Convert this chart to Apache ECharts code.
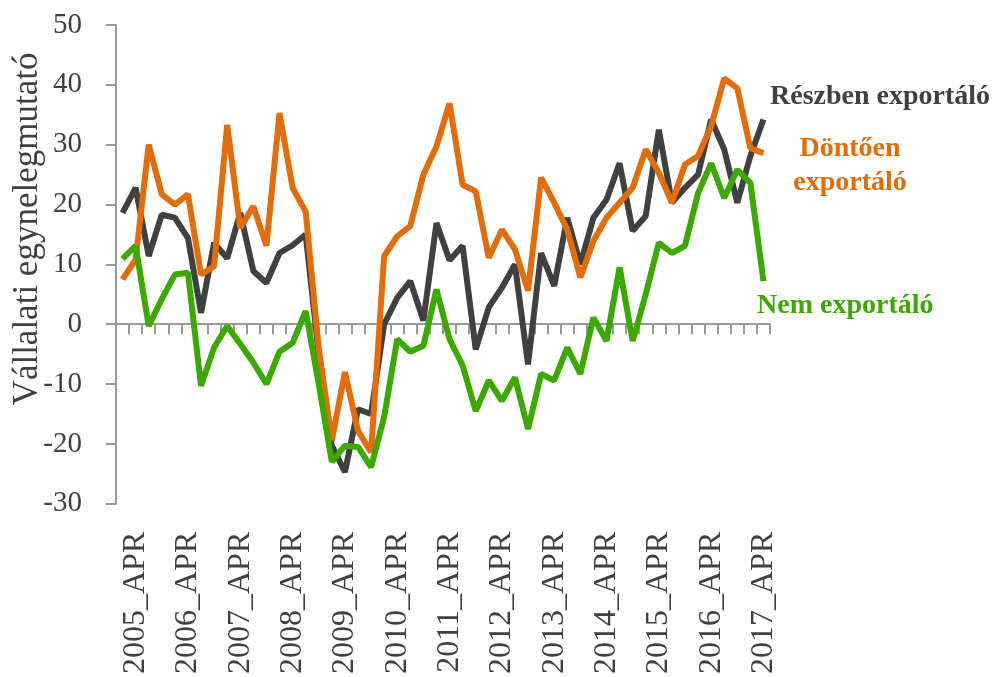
<!DOCTYPE html>
<html>
<head>
<meta charset="utf-8">
<script src="https://cdn.jsdelivr.net/npm/echarts@6/dist/echarts.min.js"></script>
<style>
html,body{margin:0;padding:0;background:#fff;}
#c{width:998px;height:677px;}
</style>
</head>
<body>
<div id="c"></div>
<script>
var categories = [
  "2005_JAN","2005_APR","2005_JUL","2005_OKT",
  "2006_JAN","2006_APR","2006_JUL","2006_OKT",
  "2007_JAN","2007_APR","2007_JUL","2007_OKT",
  "2008_JAN","2008_APR","2008_JUL","2008_OKT",
  "2009_JAN","2009_APR","2009_JUL","2009_OKT",
  "2010_JAN","2010_APR","2010_JUL","2010_OKT",
  "2011_JAN","2011_APR","2011_JUL","2011_OKT",
  "2012_JAN","2012_APR","2012_JUL","2012_OKT",
  "2013_JAN","2013_APR","2013_JUL","2013_OKT",
  "2014_JAN","2014_APR","2014_JUL","2014_OKT",
  "2015_JAN","2015_APR","2015_JUL","2015_OKT",
  "2016_JAN","2016_APR","2016_JUL","2016_OKT",
  "2017_JAN","2017_APR"
];
var yTicks = [-30, -20, -10, 0, 10, 20, 30, 40, 50];

var reszben = [
  18.6, 22.8, 11.4, 18.3, 17.8, 14.4, 1.9, 13.6, 11.0, 18.6,
  8.9, 6.9, 11.9, 13.2, 15.0, -5.0, -20.3, -24.7, -14.2, -15.0,
  0.0, 4.4, 7.2, 0.6, 16.9, 10.7, 13.1, -4.2, 2.8, 6.1,
  10.0, -6.7, 11.9, 6.4, 17.8, 10.0, 17.8, 20.8, 26.9, 15.6,
  18.1, 32.5, 20.3, 22.8, 25.0, 34.2, 29.2, 20.3, 28.1, 34.2
];
var dontoen = [
  7.5, 10.8, 30.0, 21.7, 20.0, 21.7, 8.3, 9.7, 33.3, 16.1,
  19.7, 13.1, 35.3, 22.8, 18.8, -4.0, -19.4, -8.0, -17.8, -21.4,
  11.4, 14.7, 16.4, 25.0, 29.7, 36.9, 23.3, 22.2, 11.1, 15.8,
  12.5, 5.6, 24.5, 20.3, 15.8, 7.8, 13.9, 17.8, 20.3, 22.8,
  29.2, 25.3, 20.3, 26.7, 28.1, 33.1, 41.1, 39.4, 29.4, 28.6
];
var nem = [
  10.9, 13.1, -0.3, 4.2, 8.3, 8.6, -10.3, -3.9, -0.3, -3.3,
  -6.4, -10.0, -4.6, -3.1, 2.2, -10.0, -23.0, -20.3, -20.5, -23.9,
  -15.5, -2.5, -4.6, -3.6, 5.8, -2.5, -6.9, -14.5, -9.4, -12.8,
  -8.9, -17.5, -8.3, -9.4, -3.9, -8.3, 1.1, -2.8, 9.5, -2.8,
  5.0, 13.6, 11.9, 13.1, 21.9, 26.9, 21.1, 25.8, 23.6, 7.2
];

var FONT = '"Liberation Serif", "DejaVu Serif", serif';
var chart = echarts.init(document.getElementById('c'), null, {renderer: 'canvas'});
chart.setOption({
  animation: false,
  backgroundColor: '#ffffff',
  grid: {left: 116, right: 228, top: 25, bottom: 172, containLabel: false},
  xAxis: [
    {
      type: 'category', data: categories, boundaryGap: true, position: 'bottom',
      axisLine: {show: true, onZero: true, lineStyle: {color: '#999999', width: 2}},
      axisTick: {show: true, interval: 0, length: 10, lineStyle: {color: '#999999', width: 2}},
      axisLabel: {show: false},
      splitLine: {show: false}
    },
    {
      type: 'category', data: categories, boundaryGap: true, position: 'bottom',
      axisLine: {show: false, onZero: false},
      axisTick: {show: false},
      axisLabel: {
        show: true, rotate: 90, margin: 28,
        interval: function (i) { return i % 4 === 1; },
        fontFamily: FONT, fontSize: 32, color: '#404040'
      },
      splitLine: {show: false}
    }
  ],
  yAxis: {
    type: 'value', min: yTicks[0], max: yTicks[yTicks.length - 1], interval: 10,
    axisLine: {show: true, lineStyle: {color: '#999999', width: 2}},
    axisTick: {show: true, length: 10, lineStyle: {color: '#999999', width: 2}},
    axisLabel: {margin: 34, fontFamily: FONT, fontSize: 29, color: '#404040'},
    splitLine: {show: false}
  },
  series: [
    {name: 'Részben exportáló', type: 'line', data: reszben, symbol: 'none', xAxisIndex: 0,
     lineStyle: {color: '#404040', width: 6}, itemStyle: {color: '#404040'}},
    {name: 'Döntően exportáló', type: 'line', data: dontoen, symbol: 'none', xAxisIndex: 0,
     lineStyle: {color: '#E46C0A', width: 6}, itemStyle: {color: '#E46C0A'}},
    {name: 'Nem exportáló', type: 'line', data: nem, symbol: 'none', xAxisIndex: 0,
     lineStyle: {color: '#3AAA00', width: 6}, itemStyle: {color: '#3AAA00'}}
  ],
  graphic: [
    {type: 'text', x: 28, y: 229, rotation: Math.PI / 2,
     style: {text: 'Vállalati egynelegmutató', font: '35px ' + FONT, fill: '#404040', align: 'center', verticalAlign: 'middle'}},
    {type: 'text', x: 770, y: 97,
     style: {text: 'Részben exportáló', font: 'bold 28px ' + FONT, fill: '#404040', align: 'left', verticalAlign: 'middle'}},
    {type: 'text', x: 850, y: 149,
     style: {text: 'Döntően', font: 'bold 28px ' + FONT, fill: '#E46C0A', align: 'center', verticalAlign: 'middle'}},
    {type: 'text', x: 850, y: 183,
     style: {text: 'exportáló', font: 'bold 28px ' + FONT, fill: '#E46C0A', align: 'center', verticalAlign: 'middle'}},
    {type: 'text', x: 757, y: 306,
     style: {text: 'Nem exportáló', font: 'bold 28px ' + FONT, fill: '#3AAA00', align: 'left', verticalAlign: 'middle'}}
  ]
});
</script>
</body>
</html>
